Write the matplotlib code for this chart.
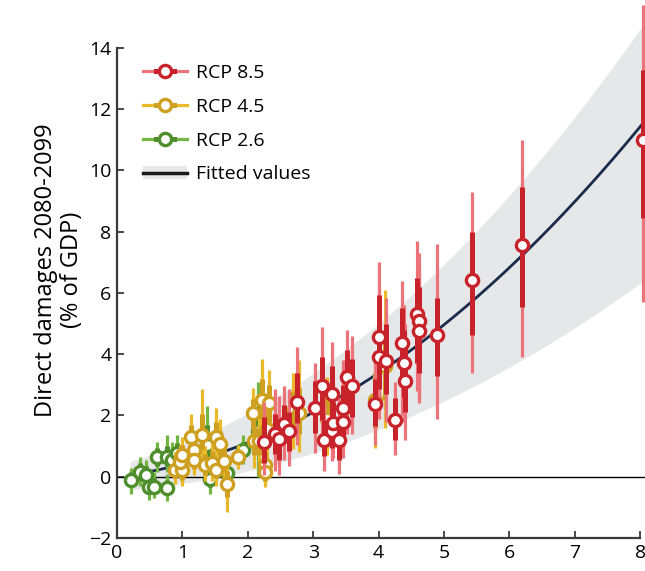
import numpy as np
import matplotlib
matplotlib.use('Agg')
import matplotlib.pyplot as plt
from matplotlib.lines import Line2D
from matplotlib.patches import Patch
from matplotlib.legend_handler import HandlerTuple

plt.rcParams['font.family'] = ['Open Sans', 'DejaVu Sans']

# RCP 2.6 : x, central value, 66% range (lo, hi), 90% range (lo, hi)
g_x = [0.22, 0.35, 0.45, 0.49, 0.56, 0.61, 0.76, 0.76, 0.84, 0.92, 1.38, 1.42, 1.68, 1.93, 2.15]
g_y = [-0.12, 0.17, 0.07, -0.35, -0.32, 0.64, -0.37, 0.66, 0.55, 0.77, 1.05, -0.06, 0.12, 0.88, 1.5]
g_t_lo = [-0.35, -0.10, -0.20, -0.55, -0.55, 0.35, -0.60, 0.35, 0.25, 0.45, 0.60, -0.35, -0.10, 0.60, 0.80]
g_t_hi = [0.15, 0.45, 0.35, -0.10, -0.05, 0.95, -0.10, 1.00, 0.90, 1.10, 1.70, 0.25, 0.40, 1.15, 2.30]
g_w_lo = [-0.55, -0.30, -0.40, -0.75, -0.70, 0.15, -0.80, 0.15, 0.05, 0.20, 0.30, -0.55, -0.30, 0.40, 0.00]
g_w_hi = [0.30, 0.65, 0.55, 0.10, 0.15, 1.15, 0.10, 1.35, 1.15, 1.35, 2.30, 0.50, 0.60, 1.35, 3.10]

# RCP 4.5
y_x = [0.89, 1.00, 0.97, 0.99, 1.13, 1.18, 1.17, 1.30, 1.34, 1.45, 1.52, 1.51, 1.57, 1.64, 1.68,
       1.85, 2.08, 2.21, 2.33, 2.09, 2.17, 2.27, 2.26, 2.29, 2.69, 2.79, 3.21, 3.95, 4.10]
y_y = [0.23, 0.22, 0.47, 0.72, 1.31, 0.86, 0.55, 1.37, 0.39, 0.45, 0.23, 1.30, 1.06, 0.52, -0.25,
       0.64, 2.08, 2.51, 2.40, 1.17, 1.17, 0.39, 0.17, 1.55, 2.16, 2.08, 1.88, 2.50, 3.60]
y_t_lo = [-0.05, -0.10, 0.15, 0.40, 0.95, 0.55, 0.25, 0.90, 0.05, 0.10, -0.05, 0.90, 0.70, 0.15, -0.65,
          0.40, 1.60, 1.90, 1.80, 0.70, 0.70, 0.00, -0.15, 1.00, 1.50, 1.40, 1.20, 1.60, 2.50]
y_t_hi = [0.55, 0.50, 0.80, 1.05, 1.70, 1.15, 0.85, 2.05, 0.75, 0.85, 0.55, 1.80, 1.50, 0.90, 0.20,
          0.90, 2.55, 3.20, 3.00, 1.70, 1.60, 0.80, 0.50, 2.10, 2.80, 2.90, 2.60, 3.40, 4.80]
y_w_lo = [-0.25, -0.30, -0.05, 0.20, 0.70, 0.30, 0.05, 0.55, -0.15, -0.15, -0.30, 0.60, 0.40, -0.10, -1.15,
          0.25, 1.20, 1.40, 1.30, 0.30, 0.30, -0.25, -0.35, 0.60, 0.90, 0.80, 0.70, 0.95, 1.60]
y_w_hi = [0.80, 0.75, 1.05, 1.30, 2.05, 1.40, 1.10, 2.85, 1.00, 1.10, 0.80, 2.25, 1.90, 1.20, 0.50,
          1.05, 2.90, 3.85, 3.50, 2.10, 2.00, 1.10, 0.80, 2.60, 3.40, 3.80, 3.25, 4.00, 6.10]

# RCP 8.5
r_x = [2.24, 2.42, 2.48, 2.55, 2.63, 2.75, 3.02, 3.13, 3.17, 3.28, 3.29, 3.31, 3.40, 3.45, 3.45, 3.51,
       3.59, 3.94, 4.01, 4.01, 4.12, 4.25, 4.35, 4.39, 4.41, 4.58, 4.61, 4.61, 4.90, 5.43, 6.19, 8.05]
r_y = [1.15, 1.40, 1.23, 1.73, 1.48, 2.44, 2.24, 2.95, 1.21, 2.71, 1.48, 1.75, 1.21, 1.78, 2.24, 3.27,
       2.95, 2.38, 4.56, 3.92, 3.79, 1.86, 4.36, 3.71, 3.14, 5.32, 5.07, 4.77, 4.62, 6.43, 7.57, 11.0]
r_t_lo = [0.45, 0.75, 0.55, 1.10, 0.85, 1.75, 1.43, 1.86, 0.67, 1.75, 0.95, 1.10, 0.55, 1.15, 1.50, 2.07,
          1.95, 1.65, 3.40, 2.85, 2.70, 1.21, 3.10, 2.60, 2.10, 3.70, 3.50, 3.40, 3.28, 4.63, 5.55, 8.45]
r_t_hi = [1.95, 2.05, 1.90, 2.35, 2.10, 3.40, 3.11, 3.92, 1.85, 3.60, 2.10, 2.45, 1.90, 2.50, 3.00, 4.14,
          3.85, 3.20, 5.94, 5.20, 5.00, 2.56, 5.50, 4.80, 4.20, 6.50, 6.20, 5.90, 5.83, 8.00, 9.47, 13.27]
r_w_lo = [0.05, 0.20, 0.05, 0.55, 0.35, 1.05, 0.78, 1.21, 0.20, 0.90, 0.50, 0.60, 0.10, 0.60, 0.90, 1.40,
          1.40, 1.05, 2.60, 1.90, 1.80, 0.70, 2.00, 1.80, 1.20, 2.80, 2.60, 2.40, 1.90, 3.38, 3.92, 5.72]
r_w_hi = [2.45, 2.85, 2.65, 2.95, 2.85, 4.25, 3.71, 4.90, 2.45, 4.40, 2.75, 3.20, 2.60, 3.30, 3.80, 4.79,
          4.60, 3.80, 7.02, 6.00, 5.85, 3.10, 6.40, 5.60, 5.00, 7.70, 7.30, 6.90, 7.60, 9.30, 11.0, 15.4]

# fitted damage function y = a*x + b*x^2 and its uncertainty band (edges)
fit_a, fit_b = 0.265, 0.1455
band_lo_x = [0.2, 2.8, 3.56, 4.94, 8.07]
band_lo_y = [-0.42, 0.62, 1.2, 2.41, 6.43]
band_hi_x = [0.2, 2.0, 2.8, 4.94, 5.86, 7.69, 8.07]
band_hi_y = [0.55, 1.97, 3.07, 6.97, 8.8, 13.6, 14.9]

RED, RED_L = '#C8232B', '#EC7379'
YEL, YEL_L = '#CFA020', '#E9B92A'
GRN, GRN_L = '#4E8E2C', '#72B543'
BAND = '#E6E7E8'
NAVY = '#1B2B4B'

fig = plt.figure(figsize=(6.45, 5.71), dpi=100)
ax = fig.add_axes([117 / 645, 33 / 571, 528 / 645, 536 / 571])

xs = np.linspace(0.2, 8.1, 300)
lo = np.polyval(np.polyfit(band_lo_x, band_lo_y, 2), xs)
hi = np.polyval(np.polyfit(band_hi_x, band_hi_y, 2), xs)
ax.fill_between(xs, lo, hi, color=BAND, lw=0, zorder=1)
ax.axhline(0, color='black', lw=1.0, zorder=2)
ax.plot(xs, fit_a * xs + fit_b * xs ** 2, color=NAVY, lw=2.0, zorder=3)


def draw(x, y, tlo, thi, wlo, whi, dark, light, z):
    ax.vlines(x, wlo, whi, color=light, lw=2.3, zorder=z)
    ax.vlines(x, tlo, thi, color=dark, lw=3.6, zorder=z + 0.1)
    ax.plot(x, y, 'o', ms=8.8, mfc='white', mec=dark, mew=2.4, zorder=z + 0.2, clip_on=False)


draw(g_x, g_y, g_t_lo, g_t_hi, g_w_lo, g_w_hi, GRN, GRN_L, 4)
draw(y_x, y_y, y_t_lo, y_t_hi, y_w_lo, y_w_hi, YEL, YEL_L, 5)
draw(r_x, r_y, r_t_lo, r_t_hi, r_w_lo, r_w_hi, RED, RED_L, 6)

ax.set_xlim(0, 8.073)
ax.set_ylim(-2, 15.5)
for s in ['top', 'right']:
    ax.spines[s].set_visible(False)
ax.spines['left'].set_bounds(-2, 14)
ax.spines['bottom'].set_bounds(0, 8)
for s in ['left', 'bottom']:
    ax.spines[s].set_color('#3a3a3a')
    ax.spines[s].set_linewidth(1.6)
ax.set_xticks(range(0, 9))
ax.set_yticks(range(-2, 15, 2))
ax.tick_params(direction='in', length=5, width=1.3, color='#3a3a3a', labelsize=14, pad=4)
ax.set_ylabel('Direct damages 2080-2099\n(% of GDP)', fontsize=17, labelpad=4, linespacing=1.1)


class SplitLine:
    def __init__(self, dark, light):
        self.dark, self.light = dark, light

    def legend_artist(self, legend, orig_handle, fontsize, handlebox):
        x0, y0 = handlebox.xdescent, handlebox.ydescent
        w, h = handlebox.width, handlebox.height
        yc = y0 + h / 2
        tr = handlebox.get_transform()
        a = Line2D([x0, x0 + w], [yc, yc], color=self.light, lw=2.3, transform=tr)
        b = Line2D([x0 + w * 0.3, x0 + w * 0.7], [yc, yc], color=self.dark, lw=3.6, transform=tr)
        m = Line2D([x0 + w / 2], [yc], marker='o', ms=8.8, mfc='white', mec=self.dark, mew=2.4, transform=tr)
        for art in (a, b, m):
            handlebox.add_artist(art)
        return a


h85, h45, h26 = object(), object(), object()
hfit = (Patch(facecolor=BAND, edgecolor='none'), Line2D([], [], color='#1a1a1a', lw=2.5))
ax.legend([h85, h45, h26, hfit], ['RCP 8.5', 'RCP 4.5', 'RCP 2.6', 'Fitted values'],
          handler_map={h85: SplitLine(RED, RED_L), h45: SplitLine(YEL, YEL_L),
                       h26: SplitLine(GRN, GRN_L), tuple: HandlerTuple(ndivide=1)},
          loc='upper left', bbox_to_anchor=(0.049, 0.885), frameon=False, fontsize=14,
          handlelength=2.27, handletextpad=0.45, labelspacing=0.82, borderpad=0, borderaxespad=0)

fig.savefig('out.png', dpi=100)
